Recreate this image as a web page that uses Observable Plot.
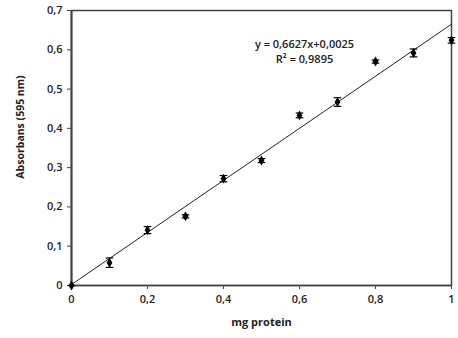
<!DOCTYPE html>
<html><head><meta charset="utf-8">
<script src="https://cdn.jsdelivr.net/npm/d3@7"></script>
<script src="https://cdn.jsdelivr.net/npm/@observablehq/plot@0.6"></script>
<style>
body{margin:0;background:#fff;}
svg{font-family:"Open Sans",sans-serif;}
</style></head><body>
<div id="chart"></div>
<script>
const protein = [0, 0.1, 0.2, 0.3, 0.4, 0.5, 0.6, 0.7, 0.8, 0.9, 1.0];
const absorbance = [0, 0.058, 0.141, 0.176, 0.272, 0.318, 0.433, 0.467, 0.570, 0.592, 0.624];
const errors = [0, 0.012, 0.009, 0.004, 0.008, 0.005, 0.006, 0.011, 0.004, 0.010, 0.007];
const slope = 0.6627, intercept = 0.0025;
const xTicks = [0, 0.2, 0.4, 0.6, 0.8, 1];
const yTicks = [0, 0.1, 0.2, 0.3, 0.4, 0.5, 0.6, 0.7];
const eqLines = ["y = 0,6627x+0,0025", "R² = 0,9895"];

const data = protein.map((x, i) => ({x, y: absorbance[i], e: errors[i]}));
const fit = [0, 1].map(x => ({x, y: slope * x + intercept}));
const fmt = d => String(d).replace(".", ",");
const capW = 0.01;

const chart = Plot.plot({
  width: 458, height: 338,
  marginLeft: 71, marginRight: 7, marginTop: 10, marginBottom: 53,
  style: {fontFamily: "Open Sans, sans-serif", background: "#fff"},
  x: {domain: [0, 1], ticks: xTicks, tickFormat: fmt, label: null, tickSize: 4},
  y: {domain: [0, 0.7], ticks: yTicks, tickFormat: fmt, label: null, tickSize: 4},
  marks: [
    Plot.frame({stroke: "#444", strokeWidth: 1.5}),
    Plot.axisX({ticks: xTicks, tickFormat: fmt, tickSize: 4, stroke: "#444", fill: "#222", fontSize: 11, fontWeight: 600, tickPadding: 6, label: null}),
    Plot.axisY({ticks: yTicks, tickFormat: fmt, tickSize: 4, stroke: "#444", fill: "#222", fontSize: 11, fontWeight: 600, tickPadding: 5, label: null}),
    Plot.ruleY([0], {stroke: "#444", strokeWidth: 1.5}),
    Plot.ruleX([0], {stroke: "#444", strokeWidth: 2}),
    Plot.line(fit, {x: "x", y: "y", stroke: "#222", strokeWidth: 1}),
    Plot.ruleX(data, {x: "x", y1: d => d.y - d.e, y2: d => d.y + d.e, stroke: "#000", strokeWidth: 1}),
    Plot.link(data, {x1: d => d.x - capW, x2: d => d.x + capW, y1: d => d.y - d.e, y2: d => d.y - d.e, stroke: "#000", strokeWidth: 1.2}),
    Plot.link(data, {x1: d => d.x - capW, x2: d => d.x + capW, y1: d => d.y + d.e, y2: d => d.y + d.e, stroke: "#000", strokeWidth: 1.2}),
    Plot.dot(data, {x: "x", y: "y", symbol: "diamond", r: 3, fill: "#000", stroke: "none"}),
    Plot.text([eqLines.join("\n")], {frameAnchor: "top-left", dx: 233, dy: 27, text: d => d, textAnchor: "middle", lineAnchor: "top", lineHeight: 1.35, fontSize: 11, fill: "#222", fontWeight: 600}),
    Plot.text(["mg protein"], {frameAnchor: "bottom", dy: 40, text: d => d, fontSize: 11, fontWeight: 700, fill: "#222"}),
    Plot.text(["Absorbans (595 nm)"], {frameAnchor: "left", dx: -51, dy: -21, rotate: -90, textAnchor: "middle", text: d => d, fontSize: 10.5, fontWeight: 700, fill: "#222"})
  ]
});
document.getElementById("chart").appendChild(chart);
</script>
</body></html>
